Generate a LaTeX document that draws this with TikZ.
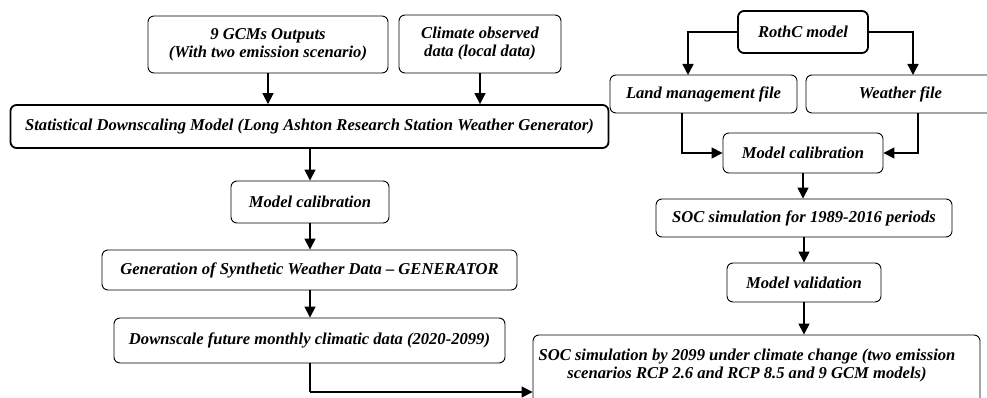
\documentclass[tikz,border=0pt]{standalone}
\usepackage{fontspec}
\setmainfont{Liberation Serif}
\usetikzlibrary{arrows.meta,calc}
\begin{document}
\begin{tikzpicture}[x=1pt,y=1pt,
  txt/.style={font=\fontsize{16.6}{18}\selectfont\bfseries\itshape},
  box/.style={draw, rounded corners=6pt, line width=0.9pt, align=center, inner sep=0pt, txt},
  tbox/.style={box, line width=1.8pt},
  arr/.style={line width=1.5pt, -{Triangle[length=11pt,width=11pt]}}]
\useasboundingbox (0,0) rectangle (987,-398);
\begin{scope}
\clip (0,0) rectangle (987,-398);
\node[box, minimum width=240, minimum height=57] (gcm) at (268,-44.5) {9 GCMs Outputs\\(With two emission scenario)};
\node[box, minimum width=162, minimum height=58] (clim) at (480,-44) {Climate observed\\data (local data)};
\node[tbox, minimum width=598, minimum height=43] (sdm) at (309.5,-126.5) {Statistical Downscaling Model (Long Ashton Research Station Weather Generator)};
\node[box, minimum width=158, minimum height=42] (mc1) at (310,-202) {Model calibration};
\node[box, minimum width=415, minimum height=40] (gen) at (309.5,-270) {Generation of Synthetic Weather Data -- GENERATOR};
\node[box, minimum width=391, minimum height=45] (down) at (309.5,-340.5) {Downscale future monthly climatic data (2020-2099)};
\node[tbox, minimum width=130, minimum height=42] (roth) at (803,-32) {RothC model};
\node[box, minimum width=187, minimum height=38] (land) at (703.5,-94) {Land management file};
\node[box, minimum width=189, minimum height=38] (weather) at (900.5,-94) {Weather file};
\node[box, minimum width=160, minimum height=40] (mc2) at (803,-153) {Model calibration};
\node[box, minimum width=296, minimum height=38] (soc1) at (804,-218) {SOC simulation for 1989-2016 periods};
\node[box, minimum width=154, minimum height=39] (val) at (804,-282.5) {Model validation};
\node[box, minimum width=447, minimum height=75] (final) at (756.5,-372.5) {};
\node[txt, align=center, inner sep=0pt] (finaltxt) at (747,-366) {SOC simulation by 2099 under climate change (two emission\\scenarios RCP 2.6 and RCP 8.5 and 9 GCM models)};
\end{scope}
\coordinate (la) at (688,-75);
\coordinate (wa) at (913,-75);
\coordinate (c1) at (310,-392);
\draw[arr] (gcm.south) -- (gcm.south |- sdm.north);
\draw[arr] (clim.south) -- (clim.south |- sdm.north);
\draw[arr] (sdm.south -| mc1.north) -- (mc1.north);
\draw[arr] (mc1.south) -- (mc1.south |- gen.north);
\draw[arr] (gen.south -| mc1.south) -- (mc1.south |- down.north);
\draw[line width=1.5pt] (down.south -| c1) -- (c1);
\draw[arr] (c1) -- (c1 -| final.west);
\draw[arr] (roth.west) -| (la);
\draw[arr] (roth.east) -| (wa);
\draw[arr] ([xshift=-21.5pt]land.south) |- (mc2.west);
\draw[arr] ([xshift=17.5pt]weather.south) |- (mc2.east);
\draw[arr] (mc2.south) -- (mc2.south |- soc1.north);
\draw[arr] (soc1.south) -- (soc1.south |- val.north);
\draw[arr] (val.south) -- (val.south |- final.north);
\end{tikzpicture}
\end{document}
